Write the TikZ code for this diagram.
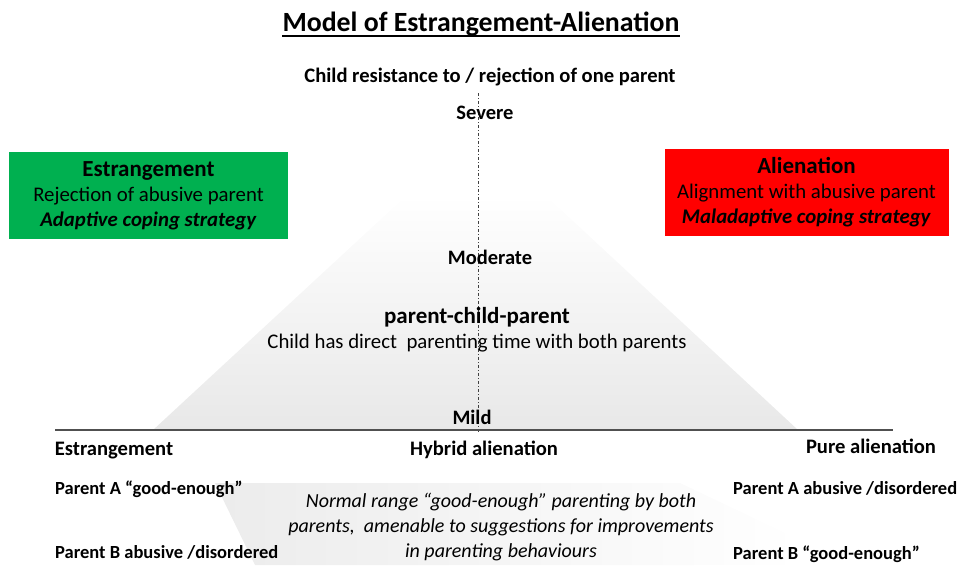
\documentclass[tikz,border=0pt]{standalone}
\usepackage{fontspec}
\setmainfont{Carlito}
\usepackage{tikz}
\usetikzlibrary{positioning}

\definecolor{estgreen}{RGB}{0,176,80}
\definecolor{alired}{RGB}{255,0,0}
\definecolor{axisgray}{RGB}{80,80,80}

\begin{document}
\begin{tikzpicture}[
    x=1pt, y=-1pt,
    title/.style={font=\fontsize{27.8}{32}\selectfont\bfseries, anchor=base, inner sep=0pt},
    head/.style={font=\fontsize{20.6}{24}\selectfont\bfseries, anchor=base, inner sep=0pt},
    level/.style={font=\fontsize{20.5}{24}\selectfont\bfseries, anchor=base, inner sep=0pt},
    body/.style={font=\fontsize{20.8}{25}\selectfont, anchor=base, inner sep=0pt},
    parent/.style={font=\fontsize{18.5}{22}\selectfont\bfseries, anchor=base west, inner sep=0pt},
    typebox/.style={minimum width=#1, minimum height=87pt, align=center, inner sep=0pt,
        font=\fontsize{20.8}{25}\selectfont},
    note/.style={font=\fontsize{20}{25}\selectfont\itshape, align=center, anchor=base, inner sep=0pt}
]
\useasboundingbox (0,0) rectangle (957,565);

% severity pyramid
\shade[top color=white, bottom color=gray!18] (153,430) -- (407,195) -- (545,195) -- (798,430) -- cycle;
% parenting band
\shade[left color=gray!15, right color=white] (215,483) -- (680,483) -- (800,540) -- (800,565) -- (255,565) -- cycle;

\node[title] (title) at (481,31) {Model of Estrangement-Alienation};
\draw[line width=1.6pt] ([yshift=-5pt]title.base west) -- ([yshift=-5pt]title.base east);

\node[head] (resist) at (490,82) {Child resistance to / rejection of one parent};

\coordinate (axtop) at (478,93);
\coordinate (axbot) at (478,432);
\draw[black!75, line width=1pt, dash dot] (axtop) -- (axbot);

\node[level] (severe) at (485,119) {Severe};
\node[level] (moderate) at (490,264) {Moderate};
\node[font=\fontsize{23}{27}\selectfont\bfseries, anchor=base, inner sep=0pt] (pcp) at (477,323) {parent-child-parent};
\node[body] (direct) at (477,348) {Child has direct\ \ parenting time with both parents};
\node[level] (mild) at (472,424) {Mild};

\node[typebox=279pt, fill=estgreen] (estbox) at (148.5,195.5)
    {{\fontsize{23}{25}\selectfont\bfseries Estrangement}\\Rejection of abusive parent\\\textbf{\itshape Adaptive coping strategy}};
\node[typebox=284pt, fill=alired] (alibox) at (806.5,192)
    {{\fontsize{23}{25}\selectfont\bfseries Alienation}\\Alignment with abusive parent\\\textbf{\itshape Maladaptive coping strategy}};

\coordinate (axleft) at (55,430);
\coordinate (axright) at (893,430);
\draw[axisgray, line width=1.4pt] (axleft) -- (axright);

\node[head] (estr) at (114,455) {Estrangement};
\node[head] (hybrid) at (484,455) {Hybrid alienation};
\node[head] (pure) at (871,453) {Pure alienation};

\node[parent] (lefta) at (55,494) {Parent A “good-enough”};
\node[parent] (leftb) at (55,558) {Parent B abusive /disordered};
\node[parent] (righta) at (733,494) {Parent A abusive /disordered};
\node[parent] (rightb) at (733,559) {Parent B “good-enough”};

\node[note] (normal) at (501,557) {Normal range “good-enough” parenting by both\\parents,\ \ amenable to suggestions for improvements\\in parenting behaviours};
\end{tikzpicture}
\end{document}
